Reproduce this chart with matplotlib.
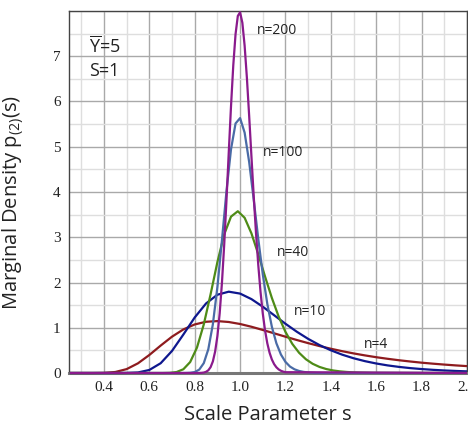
import matplotlib
matplotlib.use('Agg')
import matplotlib.pyplot as plt
from matplotlib.ticker import MultipleLocator

# ---- data ----
s_n4 = [0.25, 0.30, 0.35, 0.40, 0.45, 0.50, 0.55, 0.60, 0.65, 0.70, 0.75, 0.80,
        0.85, 0.90, 0.95, 1.00, 1.05, 1.10, 1.15, 1.20, 1.25, 1.30, 1.35, 1.40,
        1.45, 1.50, 1.55, 1.60, 1.65, 1.70, 1.75, 1.80, 1.85, 1.90, 1.95, 2.00]
p_n4 = [0.000, 0.000, 0.000, 0.003, 0.022, 0.086, 0.214, 0.398, 0.606, 0.803,
        0.963, 1.073, 1.132, 1.147, 1.127, 1.083, 1.022, 0.951, 0.877, 0.802,
        0.729, 0.660, 0.595, 0.536, 0.482, 0.433, 0.389, 0.349, 0.314, 0.282,
        0.254, 0.228, 0.206, 0.186, 0.168, 0.152]

s_n10 = [0.25, 0.30, 0.35, 0.40, 0.45, 0.50, 0.55, 0.60, 0.65, 0.70, 0.75, 0.80,
         0.85, 0.90, 0.95, 1.00, 1.05, 1.10, 1.15, 1.20, 1.25, 1.30, 1.35, 1.40,
         1.45, 1.50, 1.55, 1.60, 1.65, 1.70, 1.75, 1.80, 1.85, 1.90, 1.95, 2.00]
p_n10 = [0.000, 0.000, 0.000, 0.000, 0.000, 0.001, 0.012, 0.067, 0.216, 0.488,
         0.850, 1.227, 1.537, 1.730, 1.797, 1.755, 1.633, 1.465, 1.277, 1.088,
         0.912, 0.754, 0.617, 0.502, 0.405, 0.326, 0.262, 0.210, 0.168, 0.135,
         0.108, 0.087, 0.070, 0.056, 0.045, 0.036]

s_n40 = [0.25, 0.60, 0.63, 0.66, 0.69, 0.72, 0.75, 0.78, 0.81, 0.84, 0.87, 0.90,
         0.93, 0.96, 0.99, 1.02, 1.05, 1.08, 1.11, 1.14, 1.17, 1.20, 1.23, 1.26,
         1.29, 1.32, 1.35, 1.38, 1.41, 1.44, 1.47, 1.50, 1.53, 1.56, 1.59, 2.00]
p_n40 = [0.000, 0.000, 0.000, 0.000, 0.004, 0.021, 0.083, 0.242, 0.562, 1.074,
         1.740, 2.451, 3.063, 3.456, 3.575, 3.430, 3.086, 2.627, 2.131, 1.659,
         1.247, 0.908, 0.644, 0.447, 0.304, 0.203, 0.134, 0.087, 0.056, 0.036,
         0.023, 0.014, 0.009, 0.006, 0.003, 0.000]

s_n100 = [0.25, 0.70, 0.72, 0.74, 0.76, 0.78, 0.80, 0.82, 0.84, 0.86, 0.88, 0.90,
          0.92, 0.94, 0.96, 0.98, 1.00, 1.02, 1.04, 1.06, 1.08, 1.10, 1.12, 1.14,
          1.16, 1.18, 1.20, 1.22, 1.24, 1.26, 1.28, 1.30, 1.32, 1.34, 1.36, 2.00]
p_n100 = [0.000, 0.000, 0.000, 0.000, 0.001, 0.005, 0.021, 0.075, 0.218, 0.526,
          1.076, 1.899, 2.934, 4.020, 4.944, 5.515, 5.633, 5.312, 4.662, 3.833,
          2.970, 2.181, 1.526, 1.022, 0.657, 0.408, 0.245, 0.142, 0.081, 0.045,
          0.024, 0.013, 0.007, 0.003, 0.002, 0.000]

s_n200 = [0.25, 0.80, 0.81, 0.82, 0.83, 0.84, 0.85, 0.86, 0.87, 0.88, 0.89, 0.90,
          0.91, 0.92, 0.93, 0.94, 0.95, 0.96, 0.97, 0.98, 0.99, 1.00, 1.01, 1.02,
          1.03, 1.04, 1.05, 1.06, 1.07, 1.08, 1.09, 1.10, 1.11, 1.12, 1.13, 1.14,
          1.15, 1.16, 1.17, 1.18, 1.19, 1.20, 2.00]
p_n200 = [0.000, 0.000, 0.000, 0.001, 0.004, 0.010, 0.026, 0.060, 0.129, 0.256,
          0.474, 0.816, 1.315, 1.990, 2.836, 3.817, 4.868, 5.896, 6.801, 7.489,
          7.891, 7.972, 7.740, 7.234, 6.521, 5.680, 4.788, 3.913, 3.104, 2.394,
          1.797, 1.315, 0.939, 0.655, 0.447, 0.299, 0.196, 0.126, 0.079, 0.049,
          0.030, 0.018, 0.000]

series_labels = ["n=4", "n=10", "n=40", "n=100", "n=200"]
x_ticks = [0.4, 0.6, 0.8, 1.0, 1.2, 1.4, 1.6, 1.8, 2.0]
y_ticks = [0, 1, 2, 3, 4, 5, 6, 7]

# ---- figure ----
plt.rcParams['mathtext.fontset'] = 'custom'
W, H = 468, 426
fig = plt.figure(figsize=(W / 100, H / 100), dpi=100)
ax = fig.add_axes([69 / W, 1 - 373 / H, (467 - 69) / W, (373 - 11) / H])

colors = ["#8E1B1E", "#0E178E", "#4E8B17", "#4A6BA6", "#8A1A8C"]
data = [(s_n4, p_n4), (s_n10, p_n10), (s_n40, p_n40), (s_n100, p_n100), (s_n200, p_n200)]
for (xs, ys), c in zip(data, colors):
    ax.plot(xs, ys, color=c, lw=1.6, solid_capstyle='butt', zorder=3, clip_on=False)

ax.set_xlim(0.246, 2.0)
ax.set_ylim(0, 8.0)
ax.set_xticks(x_ticks)
ax.set_xticklabels([f"{v:.1f}" for v in x_ticks])
ax.set_yticks(y_ticks)
ax.set_yticklabels([str(v) for v in y_ticks])
ax.xaxis.set_minor_locator(MultipleLocator(0.1))
ax.yaxis.set_minor_locator(MultipleLocator(0.5))
ax.grid(which='major', color='#a9a9a9', lw=1.0, zorder=1)
ax.grid(which='minor', color='#dedede', lw=1.0, zorder=0)
ax.tick_params(which='both', length=0, pad=6)
for lab in ax.get_xticklabels() + ax.get_yticklabels():
    lab.set_fontfamily('Liberation Serif')
    lab.set_fontsize(11)
    lab.set_color('#222222')
for side in ['left', 'top', 'right']:
    ax.spines[side].set_color('#444444')
    ax.spines[side].set_linewidth(1.0)
ax.spines['bottom'].set_color('#777777')
ax.spines['bottom'].set_linewidth(2.2)

ax.set_xlabel("Scale Parameter s", fontsize=14.5, family='Open Sans', color='#222222', labelpad=8)
ax.set_ylabel(r"Marginal Density p$_{\mathregular{(2)}}$(s)", fontsize=14.5, family='Open Sans',
              color='#222222')
ax.yaxis.set_label_coords(-0.108, 0.472)

lbl_font = dict(fontsize=10, family='Open Sans', color='#222222', ha='left', va='center')
ax.text(1.076, 7.58, series_labels[4], **lbl_font)
ax.text(1.102, 4.88, series_labels[3], **lbl_font)
ax.text(1.160, 2.67, series_labels[2], **lbl_font)
ax.text(1.235, 1.35, series_labels[1], **lbl_font)
ax.text(1.544, 0.62, series_labels[0], **lbl_font)

ax.text(0.333, 7.23, r"$\overline{\mathregular{Y}}$=5", fontsize=13, family='Open Sans',
        color='#222222', ha='left', va='center')
ax.text(0.333, 6.68, "S=1", fontsize=13, family='Open Sans', color='#222222',
        ha='left', va='center')

fig.savefig('out.png', dpi=100)
